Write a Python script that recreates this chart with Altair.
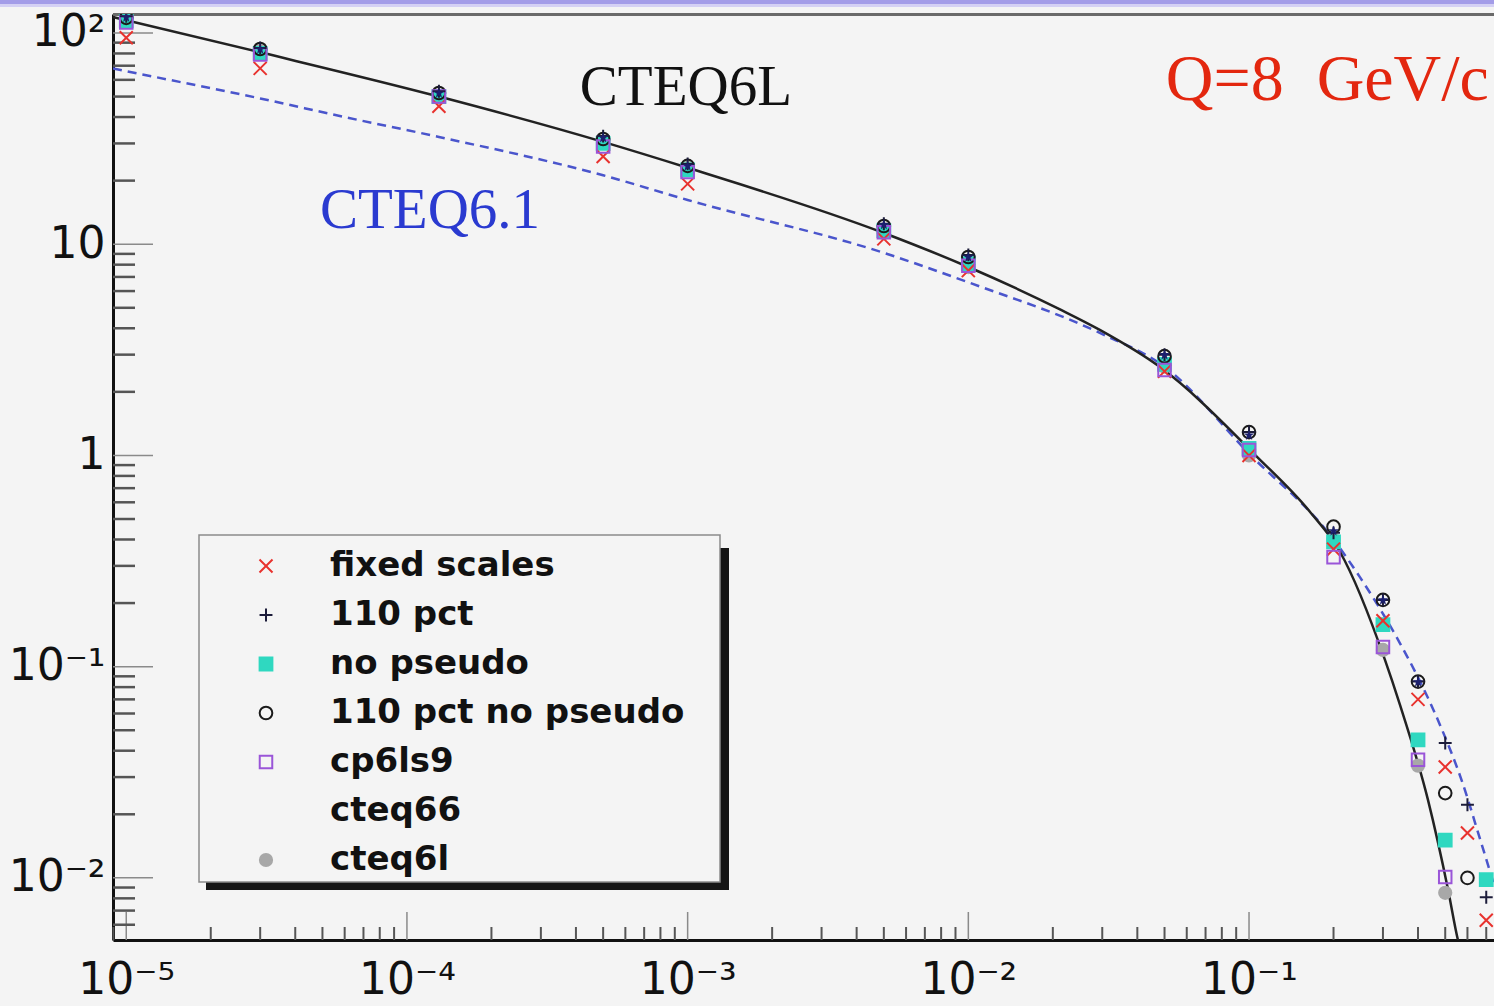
import json
import altair as alt
import pandas as pd

# ---------------- data ----------------
x_cols = [1e-5, 3e-5, 1.3e-4, 5e-4, 1e-3, 5e-3, 1e-2, 5e-2, 0.1, 0.2, 0.3, 0.4, 0.5, 0.6, 0.7]

series_names = ["fixed scales", "110 pct", "no pseudo", "110 pct no pseudo",
                "cp6ls9", "cteq66", "cteq6l"]

fixed_scales      = [95, 68, 45, 26, 19.3, 10.6, 7.5, 2.5, 1.0, 0.36, 0.165, 0.070, 0.0335, 0.0163, 0.0063]
pct110            = [120, 85, 53, 32.5, 24, 12.5, 8.9, 3.0, 1.29, 0.43, 0.207, 0.085, 0.0435, 0.0222, 0.0081]
no_pseudo         = [114, 80, 50, 30, 22.5, 11.6, 8.1, 2.7, 1.08, 0.39, 0.158, 0.045, 0.0151, None, 0.0098]
pct110_no_pseudo  = [118, 84, 52, 31.5, 23.5, 12.2, 8.7, 2.95, 1.29, 0.46, 0.207, 0.085, 0.0252, 0.0100, None]
cp6ls9            = [112, 79, 50, 29, 22, 11.4, 7.9, 2.54, 1.06, 0.33, 0.124, 0.0362, 0.0101, None, None]
cteq66            = [119, 84, 52, 32, 23.5, 12.4, 8.7, 3.0, 1.25, 0.44, 0.207, 0.0848, None, None, None]
cteq6l            = [118, 82, 50, 30.5, 23, 11.3, 7.8, 2.63, 1.0, 0.40, 0.12, 0.034, 0.0085, None, None]

# CTEQ6L curve (solid black) and CTEQ6.1 curve (dashed blue)
cteq6l_curve_x = [8.97e-6, 3e-5, 1.3e-4, 5e-4, 1e-3, 5e-3, 1e-2, 2.13e-2, 2.94e-2, 0.0482, 0.1068,
                  0.165, 0.211, 0.305, 0.345, 0.434, 0.512, 0.555, 0.569]
cteq6l_curve_y = [119, 81, 50, 30.5, 23, 11.3, 7.8, 4.9, 3.93, 2.62, 0.985,
                  0.540, 0.349, 0.1076, 0.0659, 0.0234, 0.00877, 0.00508, 0.00447]
cteq61_curve_x = [8.97e-6, 1e-5, 3e-5, 6e-5, 1.3e-4, 5e-4, 1e-3, 5e-3, 1e-2, 2.94e-2, 5e-2, 0.1,
                  0.2, 0.248, 0.345, 0.391, 0.479, 0.575, 0.667, 0.746]
cteq61_curve_y = [68, 66, 49, 40, 32.2, 21.2, 16.2, 9.1, 6.6, 3.8, 2.63, 1.02,
                  0.40, 0.266, 0.129, 0.0944, 0.053, 0.0284, 0.0151, 0.0093]

x_major = [1e-5, 1e-4, 1e-3, 1e-2, 1e-1]
x_labels = ["10⁻⁵", "10⁻⁴", "10⁻³", "10⁻²", "10⁻¹"]
y_major = [0.01, 0.1, 1, 10, 100]
y_labels = ["10⁻²", "10⁻¹", "1", "10", "10²"]

x_domain = [8.97e-6, 0.746]
y_domain = [0.00508, 123]

ann_black = ["CTEQ6L"]
ann_black_x = [4.13e-4]
ann_black_y = [45.6]
ann_blue = ["CTEQ6.1"]
ann_blue_x = [4.9e-5]
ann_blue_y = [11.9]
ann_red = ["Q=8\u00a0 GeV/c"]
ann_red_x = [0.0505]
ann_red_y = [48.2]

# ---------------- tables ----------------
series_values = {
    "fixed scales": fixed_scales, "110 pct": pct110, "no pseudo": no_pseudo,
    "110 pct no pseudo": pct110_no_pseudo, "cp6ls9": cp6ls9,
    "cteq66": cteq66, "cteq6l": cteq6l,
}
draw_order = ["cteq6l", "no pseudo", "110 pct no pseudo", "fixed scales", "cp6ls9", "110 pct"]
rows = []
for name in draw_order:
    for xv, yv in zip(x_cols, series_values[name]):
        if yv is not None:
            rows.append({"series": name, "x": xv, "y": yv})
pts = pd.DataFrame(rows)
pts66 = pd.DataFrame([{"x": xv, "y": yv} for xv, yv in zip(x_cols, cteq66) if yv is not None])

curve6l = pd.DataFrame({"x": cteq6l_curve_x, "y": cteq6l_curve_y})
curve61 = pd.DataFrame({"x": cteq61_curve_x, "y": cteq61_curve_y})

x_minor = [k * 10.0 ** e for e in range(-6, 0) for k in range(2, 10)
           if x_domain[0] <= k * 10.0 ** e <= x_domain[1]]
y_minor = [k * 10.0 ** e for e in range(-3, 3) for k in range(2, 10)
           if y_domain[0] <= k * 10.0 ** e <= y_domain[1]]

# ---------------- styling ----------------
W, H = 1381, 926
xs = alt.Scale(type="log", domain=x_domain, nice=False)
ys = alt.Scale(type="log", domain=y_domain, nice=False)

X_PATH = "M-1,-1L1,1M-1,1L1,-1"
PLUS_PATH = "M-1,0L1,0M0,-1L0,1"
STAR_PATH = "M0,-1L0.25,-0.3L1,-0.3L0.4,0.15L0.6,0.95L0,0.45L-0.6,0.95L-0.4,0.15L-1,-0.3L-0.25,-0.3Z"

# cteq66 is listed in the legend with no visible symbol (as in the original)
shape_range = [X_PATH, PLUS_PATH, "square", "circle", "square", "circle", "circle"]
stroke_range = ["#e8322e", "#1c1c3a", "#2fd8c0", "#1a1a1a", "#9a55d8", "transparent", "#a8a8a8"]
fill_range = ["transparent", "transparent", "#2fd8c0", "transparent", "transparent", "transparent", "#a8a8a8"]
size_range = [170, 150, 40, 50, 230, 20, 14]

x_label_expr = json.dumps(x_labels, ensure_ascii=False) + "[round(log(datum.value)/LN10)+5]"
y_label_expr = json.dumps(y_labels, ensure_ascii=False) + "[round(log(datum.value)/LN10)+2]"

AX_FONT = "DejaVu Sans"
x_axis = alt.Axis(values=x_major, labelExpr=x_label_expr, ticks=False, grid=False,
                  domain=True, domainColor="#111111", domainWidth=3, title=None,
                  labelFont=AX_FONT, labelFontSize=44, labelColor="#111111",
                  labelPadding=18, labelOverlap=False, labelFlush=False, labelBound=False)
y_axis = alt.Axis(values=y_major, labelExpr=y_label_expr, ticks=False, grid=False,
                  domain=True, domainColor="#111111", domainWidth=3, title=None,
                  labelFont=AX_FONT, labelFontSize=44, labelColor="#111111",
                  labelPadding=8, labelOverlap=False, labelFlush=False, labelBound=False,
                  labelBaseline="middle")

def X(field):
    return alt.X(field, scale=xs, axis=x_axis)

def Y(field):
    return alt.Y(field, scale=ys, axis=y_axis)

one = pd.DataFrame({"a": [0]})

# decorations
strip1 = alt.Chart(one).mark_rule(color="#a39ce8", strokeWidth=4).encode(
    x=alt.value(-113), x2=alt.value(W), y=alt.value(-12))
strip2 = alt.Chart(one).mark_rule(color="#d4d0f4", strokeWidth=3).encode(
    x=alt.value(-113), x2=alt.value(W), y=alt.value(-8.5))
frame_top = alt.Chart(one).mark_rule(color="#6a6a6a", strokeWidth=3).encode(
    x=alt.value(0), x2=alt.value(W), y=alt.value(0.5))
shadow = alt.Chart(one).mark_rect(color="#151515").encode(
    x=alt.value(93), x2=alt.value(616), y=alt.value(534), y2=alt.value(876))
legend_box = alt.Chart(one).mark_rect(fill="#f4f4f4", stroke="#8a8a8a", strokeWidth=1.5).encode(
    x=alt.value(86), x2=alt.value(607), y=alt.value(521), y2=alt.value(868))

# ticks (inward)
xt_major = alt.Chart(pd.DataFrame({"t": x_major})).mark_rule(color="#8a8a8a", strokeWidth=1.5).encode(
    x=X("t:Q"), y=alt.value(H), y2=alt.value(H - 28))
xt_minor = alt.Chart(pd.DataFrame({"t": x_minor})).mark_rule(color="#555555", strokeWidth=2).encode(
    x=X("t:Q"), y=alt.value(H), y2=alt.value(H - 13))
yt_major = alt.Chart(pd.DataFrame({"t": y_major})).mark_rule(color="#8a8a8a", strokeWidth=1.5).encode(
    y=Y("t:Q"), x=alt.value(0), x2=alt.value(40))
yt_minor = alt.Chart(pd.DataFrame({"t": y_minor})).mark_rule(color="#555555", strokeWidth=2.5).encode(
    y=Y("t:Q"), x=alt.value(0), x2=alt.value(22))

# curves
line61 = alt.Chart(curve61).mark_line(color="#4a55cc", strokeWidth=2.5, strokeDash=[9, 6],
                                      interpolate="monotone", clip=True).encode(
    x=X("x:Q"), y=Y("y:Q"))
line6l = alt.Chart(curve6l).mark_line(color="#222222", strokeWidth=2.5,
                                      interpolate="monotone", clip=True).encode(
    x=X("x:Q"), y=Y("y:Q"))

# markers + legend
leg = alt.Legend(title=None, orient="none", legendX=86, legendY=525)
points = alt.Chart(pts).mark_point(strokeWidth=2, opacity=1, clip=True).encode(
    x=X("x:Q"),
    y=Y("y:Q"),
    shape=alt.Shape("series:N", scale=alt.Scale(domain=series_names, range=shape_range), legend=leg),
    stroke=alt.Stroke("series:N", scale=alt.Scale(domain=series_names, range=stroke_range), legend=leg),
    fill=alt.Fill("series:N", scale=alt.Scale(domain=series_names, range=fill_range), legend=leg),
    size=alt.Size("series:N", scale=alt.Scale(domain=series_names, range=size_range), legend=leg),
)
points66 = alt.Chart(pts66).mark_point(shape=STAR_PATH, size=110, filled=True, color="#1b1f6e",
                                       opacity=1, clip=True).encode(
    x=X("x:Q"), y=Y("y:Q"))

def ann(texts, xv, yv, color, size):
    df = pd.DataFrame({"text": texts, "x": xv, "y": yv})
    return alt.Chart(df).mark_text(font="Liberation Serif", fontSize=size, color=color,
                                   align="left", baseline="alphabetic", clip=True).encode(
        x=X("x:Q"), y=Y("y:Q"), text="text:N")

t_black = ann(ann_black, ann_black_x, ann_black_y, "#111111", 57)
t_blue = ann(ann_blue, ann_blue_x, ann_blue_y, "#2a3ad0", 57)
t_red = ann(ann_red, ann_red_x, ann_red_y, "#e3270f", 66)

chart = alt.layer(
    strip1, strip2, frame_top, shadow, legend_box,
    xt_major, xt_minor, yt_major, yt_minor,
    line61, line6l, points, points66, t_black, t_blue, t_red,
).properties(
    width=W, height=H, background="#f4f4f4",
    padding={"left": 113, "top": 14, "right": 0, "bottom": 66},
    autosize=alt.AutoSizeParams(type="none"),
).configure_view(
    stroke="transparent", fill="#f4f4f4"
).configure_legend(
    labelFont="DejaVu Sans", labelFontSize=34, labelFontWeight="bold", labelColor="#111111",
    padding=10, rowPadding=15,
    symbolOffset=40, labelOffset=47, symbolStrokeWidth=2, labelLimit=600,
)

chart.save("out.html", embed_options={"renderer": "svg", "actions": False})
